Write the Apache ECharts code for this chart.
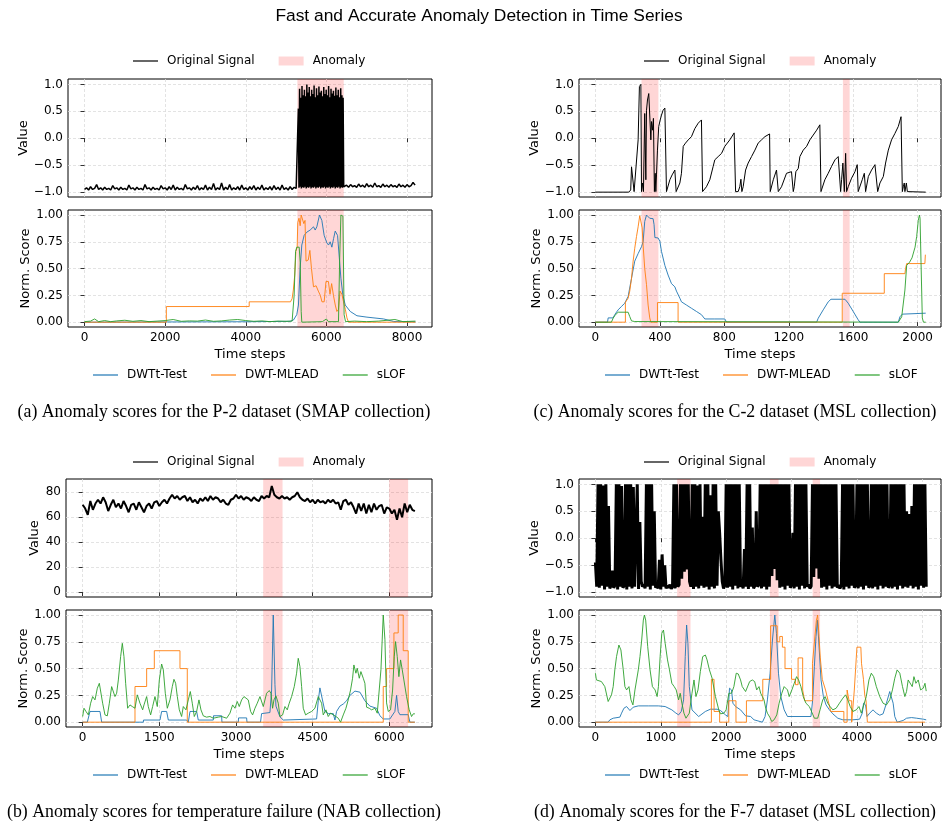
<!DOCTYPE html>
<html>
<head>
<meta charset="utf-8">
<script src="https://cdn.jsdelivr.net/npm/echarts@6/dist/echarts.min.js"></script>
<style>html,body{margin:0;padding:0;background:#fff}#c{width:949px;height:828px}</style>
</head>
<body>
<div id="c"></div>
<script>
// ---------- DATA ----------
const ticksA = [0, 2000, 4000, 6000, 8000];
const ticksC = [0, 400, 800, 1200, 1600, 2000];
const ticksB = [0, 1500, 3000, 4500, 6000];
const ticksD = [0, 1000, 2000, 3000, 4000, 5000];
const ySigTicks = [-1, -0.5, 0, 0.5, 1];
const ySigBTicks = [0, 20, 40, 60, 80];
const yScoreTicks = [0, 0.25, 0.5, 0.75, 1];

const anomA = [[5280, 6430]];
const anomC = [[286, 391], [1536, 1578]];
const anomB = [[3532, 3911], [5996, 6368]];
const anomD = [[1250, 1455], [2669, 2802], [3323, 3436]];

// (a) P-2 signal: three segments
const sigA_base1 = [-0.95,-0.92,-0.96,-0.9,-0.95,-0.93,-0.86,-0.95,-0.92,-0.96,
-0.91,-0.95,-0.93,-0.96,-0.88,-0.94,-0.92,-0.96,-0.91,-0.95,
-0.93,-0.96,-0.87,-0.94,-0.92,-0.96,-0.91,-0.95,-0.93,-0.96,
-0.86,-0.94,-0.92,-0.96,-0.91,-0.95,-0.93,-0.96,-0.88,-0.94,
-0.92,-0.96,-0.9,-0.95,-0.87,-0.96,-0.91,-0.95,-0.93,-0.96,
-0.86,-0.94,-0.92,-0.96,-0.91,-0.95,-0.88,-0.96,-0.92,-0.95,
-0.87,-0.96,-0.91,-0.95,-0.84,-0.96,-0.92,-0.95,-0.83,-0.96,
-0.91,-0.95,-0.86,-0.96,-0.92,-0.95,-0.9,-0.96,-0.87,-0.95,
-0.92,-0.96,-0.9,-0.95,-0.88,-0.96,-0.91,-0.95,-0.87,-0.96,
-0.92,-0.95,-0.9,-0.96,-0.88,-0.95,-0.91,-0.96,-0.87,-0.95,
-0.92,-0.96,-0.9,-0.95,-0.91,-0.93];
const sigA_block = [-0.9,0.55,-0.92,0.92,-0.9,0.75,-0.93,0.97,-0.91,0.8,
-0.92,0.9,-0.9,0.78,-0.93,1.0,-0.91,0.85,-0.92,0.95,
-0.9,0.78,-0.93,0.9,-0.91,0.82,-0.92,0.98,-0.9,0.76,
-0.93,0.93,-0.91,0.8,-0.92,0.96,-0.9,0.85,-0.93,0.88,
-0.91,0.78,-0.92,0.95,-0.9,0.82,-0.93,0.9,-0.91,0.8,
-0.92,0.97,-0.9,0.76,-0.93,0.92,-0.91,0.83,-0.92,0.88,
-0.9,0.79,-0.93,0.94,-0.91,0.8,-0.92,0.9,-0.9,0.76,
-0.93,0.93,-0.91,0.8,-0.92,0.75,-0.9];
const sigA_base2 = [-0.9,-0.87,-0.91,-0.86,-0.9,-0.88,-0.91,-0.85,-0.9,-0.87,
-0.91,-0.84,-0.9,-0.87,-0.91,-0.83,-0.9,-0.88,-0.91,-0.85,
-0.9,-0.87,-0.91,-0.86,-0.9,-0.88,-0.91,-0.85,-0.9,-0.87,
-0.91,-0.86,-0.9,-0.88,-0.82,-0.87];

const blueA = [[0,0],[2000,0.002],[4000,0.004],[5100,0.008],[5183,0.02],[5265,0.07],[5307,0.16],[5348,0.5],[5390,0.72],[5448,0.81],[5514,0.84],[5597,0.86],[5680,0.89],[5722,0.86],[5763,0.89],[5829,1.0],[5887,0.95],[5945,0.81],[6012,0.74],[6053,0.72],[6095,0.75],[6136,0.7],[6178,0.78],[6219,0.85],[6277,0.81],[6327,0.57],[6360,0.41],[6410,0.25],[6468,0.16],[6592,0.1],[6758,0.06],[7007,0.047],[7421,0.03],[7670,0.006],[8209,0.003]];
const orangeA = [[0,0],[2030,0],[2030,0.146],[4085,0.146],[4085,0.19],[5110,0.19],[5150,0.22],[5180,0.3],[5215,0.44],[5245,0.66],[5275,0.7],[5290,0.93],[5320,0.97],[5350,0.9],[5375,1.0],[5420,1.0],[5440,0.92],[5470,0.95],[5495,0.57],[5550,0.58],[5590,0.67],[5630,0.5],[5680,0.33],[5745,0.34],[5800,0.29],[5850,0.25],[5890,0.19],[5945,0.19],[5990,0.38],[6050,0.38],[6090,0.26],[6130,0.36],[6175,0.25],[6220,0.16],[6260,0.1],[6300,0.12],[6340,0.29],[6385,0.26],[6425,0.19],[6470,0.12],[6510,0.04],[6550,0],[8209,0]];
const greenA = [[0,0.005],[150,0.01],[250,0.03],[350,0.005],[500,0.015],[650,0.005],[800,0.012],[1000,0.018],[1200,0.008],[1400,0.015],[1600,0.005],[1800,0.01],[2000,0.015],[2200,0.025],[2400,0.008],[2600,0.012],[2800,0.01],[3000,0.02],[3200,0.008],[3400,0.012],[3600,0.02],[3800,0.025],[4000,0.015],[4200,0.008],[4400,0.012],[4600,0.005],[4800,0.01],[5000,0.008],[5150,0.01],[5200,0.25],[5235,0.66],[5265,0.7],[5325,0.7],[5350,0.56],[5375,0.1],[5390,0],[5900,0.005],[6000,0.03],[6050,0.005],[6300,0.005],[6330,0.6],[6360,1.0],[6410,0.99],[6440,0.07],[6475,0.005],[6700,0.01],[7000,0.005],[7300,0.01],[7700,0.025],[7900,0.005],[8209,0.01]];

// (c) C-2
const sigC = [[0,-1],[207,-1],[219,-0.96],[224,-0.53],[234,-0.52],[240,-0.99],[251,-0.99],[265,-0.03],[273,0.96],[282,1.0],[286,-0.99],[292,-0.83],[298,-0.99],[306,0.46],[313,-0.77],[317,0.52],[323,0.71],[331,0.83],[342,0.83],[344,-0.03],[348,0.31],[354,0.15],[360,0.37],[366,-0.99],[371,-0.65],[375,-0.99],[379,-0.68],[385,-0.22],[393,0.22],[402,0.34],[410,0.43],[420,0.52],[431,0.56],[441,-0.99],[447,-0.99],[462,-0.77],[476,-0.68],[493,-0.59],[501,-0.99],[509,-0.96],[524,-0.83],[534,-0.65],[545,-0.15],[559,-0.09],[576,-0.03],[596,0.03],[617,0.18],[638,0.28],[658,0.34],[665,-0.99],[689,-0.9],[710,-0.77],[731,-0.52],[741,-0.4],[762,-0.34],[783,-0.28],[803,-0.15],[834,-0.03],[861,0.1],[870,-0.99],[886,-0.99],[896,-0.9],[903,-0.76],[909,-0.99],[917,-0.9],[932,-0.59],[948,-0.46],[969,-0.34],[990,-0.22],[1010,-0.09],[1031,-0.03],[1052,0.03],[1081,0.08],[1085,-0.99],[1093,-0.99],[1104,-0.77],[1124,-0.59],[1135,-0.99],[1145,-0.99],[1155,-0.9],[1186,-0.65],[1217,-0.62],[1228,-0.99],[1234,-0.9],[1244,-0.62],[1259,-0.56],[1269,-0.34],[1290,-0.22],[1311,-0.15],[1331,-0.03],[1352,0.06],[1373,0.15],[1393,0.25],[1400,-0.99],[1408,-0.99],[1424,-0.77],[1445,-0.65],[1466,-0.52],[1487,-0.4],[1507,-0.34],[1522,-0.99],[1528,-0.77],[1536,-0.46],[1545,-0.99],[1553,-0.28],[1559,-0.99],[1569,-0.9],[1590,-0.74],[1611,-0.62],[1625,-0.49],[1631,-0.99],[1642,-0.99],[1656,-0.77],[1669,-0.65],[1677,-0.99],[1685,-0.99],[1694,-0.71],[1714,-0.59],[1735,-0.49],[1745,-0.46],[1752,-0.99],[1766,-0.83],[1787,-0.71],[1801,-0.46],[1818,-0.22],[1838,-0.03],[1859,0.09],[1880,0.22],[1897,0.4],[1905,-0.99],[1911,-0.9],[1917,-0.83],[1921,-0.99],[1930,-0.83],[1936,-0.99],[2050,-1]];
const blueC = [[0,0],[75,0],[79,0.04],[110,0.04],[120,0.07],[141,0.115],[161,0.146],[182,0.177],[203,0.24],[224,0.41],[244,0.57],[265,0.64],[286,0.705],[296,0.75],[306,0.94],[317,1.0],[327,0.994],[337,0.97],[348,0.957],[358,0.966],[364,0.91],[369,0.79],[389,0.786],[400,0.755],[410,0.66],[431,0.53],[451,0.44],[472,0.36],[493,0.33],[503,0.29],[524,0.224],[534,0.19],[565,0.16],[596,0.13],[627,0.1],[658,0.07],[679,0.03],[741,0.03],[803,0.03],[814,0],[1373,0],[1383,0.037],[1414,0.115],[1445,0.19],[1462,0.214],[1549,0.214],[1569,0.177],[1600,0.1],[1631,0.022],[1642,0],[1880,0],[1890,0.05],[1905,0.075],[1917,0.084],[2050,0.084]];
const orangeC = [[0,0],[186,0],[186,0.186],[193,0.186],[203,0.224],[213,0.29],[224,0.41],[234,0.57],[244,0.69],[255,0.8],[265,0.89],[275,0.994],[286,1.0],[290,0.88],[296,0.72],[306,0.5],[317,0.35],[327,0.16],[337,0.04],[344,0],[385,0],[385,0.183],[513,0.183],[513,0],[1532,0],[1532,0.27],[1793,0.27],[1793,0.453],[1921,0.453],[1925,0.5],[1932,0.547],[2045,0.547],[2048,0.63]];
const greenC = [[0,0],[99,0],[110,0.037],[120,0.062],[141,0.093],[203,0.093],[213,0.053],[224,0.012],[244,0.006],[255,0],[1880,0],[1901,0.05],[1921,0.3],[1932,0.53],[1950,0.56],[1965,0.6],[1984,0.7],[1994,0.8],[2004,0.95],[2011,1.0],[2015,0.97],[2021,0.56],[2029,0.04],[2036,0],[2050,0]];

// (b) temperature failure, sampled every 50 steps
const sigB = [70,67,62,73,66,71,74,71,76,72,65,70,74,68,71,67,73,69,64,70,
71,66,72,68,64,69,71,67,72,73,69,72,74,71,75,78,75,77,74,76,
77,73,76,72,74,71,75,73,76,73,77,74,76,75,72,74,71,70,74,75,
78,75,77,74,76,75,73,76,74,73,77,75,77,76,85,78,76,75,77,75,
76,74,76,77,80,76,74,73,75,72,74,71,74,72,73,71,74,72,74,71,
72,66,73,74,70,72,68,63,71,65,71,63,70,64,71,66,69,70,63,68,
67,63,66,58,67,60,71,64,70,66,65];
const blueB = [[0,0],[91,0],[143,0.1],[339,0.1],[372,0],[1187,0],[1190,0.02],[1513,0.02],[1545,0.1],[1643,0.1],[1676,0.02],[2034,0.02],[2067,0],[2100,0.1],[2230,0.1],[2262,0.02],[2556,0.02],[2560,0.06],[2719,0.06],[2725,0],[3045,0],[3050,0.04],[3208,0.04],[3215,0],[3480,0],[3501,0.08],[3664,0.09],[3697,0.3],[3729,1.0],[3762,0.35],[3782,0.15],[3860,0.05],[3925,0.02],[3958,0.03],[4577,0.03],[4610,0.2],[4642,0.32],[4675,0.32],[4740,0.1],[4805,0.08],[4903,0.08],[4936,0.02],[4968,0.1],[5033,0.15],[5100,0.17],[5164,0.2],[5229,0.25],[5327,0.29],[5425,0.28],[5522,0.2],[5620,0.15],[5751,0.13],[5816,0.06],[5881,0.03],[6011,0.03],[6109,0.1],[6142,0.25],[6174,0.1],[6207,0.07],[6370,0.07],[6403,0],[6500,0]];
const orangeB = [[0,0],[1024,0],[1024,0.333],[1252,0.333],[1252,0.5],[1402,0.5],[1402,0.667],[1904,0.667],[1904,0.5],[2047,0.5],[2047,0],[5881,0],[5881,0.333],[5946,0.333],[5946,0.5],[6090,0.5],[6090,0.833],[6174,0.833],[6174,1],[6272,1],[6272,0.667],[6370,0.667],[6370,0],[6500,0]];
const greenB = [[0,0.053],[26,0.13],[65,0.1],[111,0.068],[156,0.177],[196,0.239],[241,0.208],[287,0.317],[326,0.363],[359,0.348],[391,0.177],[437,0.068],[482,0.059],[522,0.177],[567,0.332],[600,0.348],[632,0.239],[665,0.27],[698,0.394],[743,0.612],[776,0.736],[808,0.612],[841,0.363],[880,0.13],[926,0.161],[971,0.146],[1024,0.13],[1069,0.255],[1121,0.177],[1174,0.115],[1200,0.161],[1252,0.239],[1284,0.146],[1330,0.068],[1369,0.146],[1415,0.239],[1460,0.146],[1500,0.394],[1545,0.543],[1578,0.488],[1617,0.27],[1656,0.13],[1708,0.208],[1754,0.332],[1786,0.4],[1819,0.363],[1852,0.239],[1891,0.115],[1936,0.053],[1969,0.146],[2021,0.115],[2067,0.208],[2106,0.286],[2145,0.177],[2184,0.053],[2230,0.1],[2275,0.208],[2315,0.115],[2360,0.059],[2425,0.047],[2491,0.053],[2556,0.037],[2654,0.047],[2719,0.053],[2817,0.037],[2882,0.084],[2934,0.161],[2980,0.13],[3025,0.193],[3064,0.146],[3110,0.208],[3156,0.239],[3195,0.255],[3240,0.208],[3286,0.1],[3325,0.068],[3371,0.13],[3416,0.177],[3469,0.239],[3501,0.245],[3534,0.146],[3566,0.161],[3599,0.27],[3651,0.295],[3684,0.27],[3716,0.13],[3743,0.208],[3782,0.245],[3827,0.177],[3860,0.053],[3912,0.068],[3958,0.146],[4003,0.115],[4042,0.177],[4088,0.239],[4140,0.332],[4186,0.457],[4218,0.596],[4251,0.519],[4284,0.332],[4316,0.13],[4362,0.068],[4414,0.084],[4479,0.1],[4544,0.13],[4610,0.239],[4642,0.245],[4675,0.177],[4707,0.068],[4760,0.115],[4805,0.053],[4851,0.084],[4903,0.068],[4955,0.053],[5001,0.037],[5046,0],[5099,0.068],[5151,0.13],[5196,0.208],[5242,0.301],[5281,0.41],[5307,0.534],[5346,0.457],[5372,0.503],[5412,0.41],[5444,0.472],[5490,0.41],[5522,0.363],[5555,0.14],[5607,0.13],[5653,0.115],[5718,0.13],[5764,0.084],[5803,0.1],[5836,0.49],[5881,1.0],[5914,0.77],[5946,0.18],[5979,0.1],[6024,0.115],[6064,0.3],[6096,0.61],[6122,0.752],[6155,0.612],[6187,0.425],[6220,0.581],[6253,0.488],[6285,0.394],[6337,0.239],[6389,0.115],[6435,0.053],[6468,0.078],[6500,0.078]];

// (d) F-7 signal, sampled every 20 steps
const sigD = [-0.45,-0.9,1,-0.92,1,-0.88,0.98,-0.95,1,-0.9,
0.6,-0.93,-0.88,-0.6,-0.92,-0.87,1,-0.95,1,-0.9,
0.97,-0.92,-0.88,1,-0.95,1,-0.9,1,-0.93,0.95,
-0.9,-0.87,1,-0.94,0.3,-0.8,-0.9,-0.86,-0.93,1,
-0.9,1,-0.95,1,-0.88,0.5,-0.92,-0.87,-0.93,-0.4,
-0.95,-0.3,-0.9,-0.5,-0.93,-0.88,-0.92,-0.86,-0.94,-0.89,
1,-0.93,1,-0.9,-0.86,1,-0.75,1,-0.62,1,
-0.58,1,-0.8,-0.9,1,-0.94,1,-0.9,0.98,-0.93,
1,-0.88,0.4,-0.92,1,-0.9,1,-0.95,0.8,-0.9,
1,-0.93,1,-0.88,0.5,0.1,-0.4,-0.8,-0.93,-0.87,
1,-0.92,1,-0.9,1,-0.95,1,-0.88,1,-0.93,
1,-0.9,-0.86,-0.93,-0.2,-0.9,1,-0.94,1,-0.9,
0.2,-0.93,-0.88,0.5,-0.9,-0.86,1,-0.93,1,-0.9,
1,-0.95,1,-0.9,1,-0.7,1,-0.57,1,-0.78,
1,-0.92,1,-0.9,1,-0.95,1,-0.88,1,-0.92,
-0.87,0.1,-0.93,1,-0.9,1,-0.95,1,-0.88,1,
-0.93,1,-0.9,-0.86,-0.93,-0.89,1,-0.72,1,-0.56,
1,-0.75,1,-0.92,1,-0.9,1,-0.95,1,-0.88,
1,-0.93,1,-0.9,1,-0.92,-0.87,-0.93,-0.88,1,
-0.95,1,-0.9,1,-0.93,1,-0.88,1,-0.92,-0.88,
1,-0.93,1,-0.9,1,-0.95,1,-0.88,1,-0.92,
-0.88,1,-0.93,1,-0.9,1,-0.95,1,-0.88,1,
-0.93,1,-0.9,1,-0.92,-0.87,1,-0.93,1,-0.9,
1,-0.95,1,-0.88,1,-0.93,1,-0.9,0.5,-0.92,
0.45,-0.88,0.6,-0.93,1,-0.9,1,-0.95,1,-0.88,
1,-0.92,1,-0.9];
const blueD = [[0,0],[195,0],[221,0.022],[272,0.037],[374,0.047],[400,0.084],[436,0.13],[477,0.146],[503,0.158],[528,0.109],[579,0.14],[656,0.152],[810,0.152],[964,0.152],[1067,0.146],[1169,0.115],[1220,0.09],[1272,0.068],[1313,0.1],[1349,0.208],[1374,0.612],[1395,0.907],[1415,0.736],[1436,0.332],[1477,0.115],[1579,0.053],[1682,0.1],[1759,0.121],[1861,0.121],[1913,0.109],[1990,0.068],[2026,0.053],[2051,0.317],[2082,0.301],[2103,0.177],[2144,0.146],[2220,0.115],[2297,0.059],[2374,0.053],[2426,0.022],[2554,0],[2595,0.053],[2631,0.208],[2672,0.457],[2708,0.767],[2744,1.0],[2769,0.829],[2800,0.457],[2836,0.239],[2887,0.115],[2938,0.053],[3297,0.053],[3323,0.208],[3349,0.519],[3374,0.798],[3395,0.953],[3415,0.767],[3451,0.394],[3487,0.239],[3528,0.161],[3579,0.115],[3631,0.078],[3708,0.037],[3785,0.022],[3938,0.022],[4041,0.028],[4082,0.084],[4102,0.177],[4133,0.161],[4154,0.053],[4195,0.084],[4246,0.115],[4297,0.084],[4349,0.065],[4400,0.078],[4451,0.177],[4502,0.286],[4528,0.27],[4554,0.177],[4579,0.053],[4615,0],[4708,0.016],[4759,0.037],[4836,0.043],[4913,0.037],[5015,0.028],[5060,0.022]];
const orangeD = [[0,0],[1774,0],[1774,0.4],[1815,0.4],[1815,0.1],[1900,0.1],[1900,0],[2040,0],[2040,0.2],[2150,0.2],[2150,0],[2310,0],[2310,0.2],[2560,0.2],[2560,0.4],[2680,0.4],[2680,0.9],[2780,0.9],[2780,0.75],[2820,0.75],[2820,0.8],[2860,0.8],[2860,0.7],[2900,0.7],[2900,0.5],[3000,0.5],[3000,0.4],[3060,0.4],[3060,0.35],[3100,0.35],[3100,0.6],[3170,0.6],[3170,0.3],[3200,0.3],[3200,0.2],[3320,0.2],[3320,0.55],[3350,0.75],[3380,0.95],[3400,1.0],[3420,0.8],[3440,0.6],[3470,0.4],[3520,0.3],[3560,0.2],[3600,0.1],[3800,0.1],[3800,0],[3850,0],[3850,0.3],[3880,0.3],[3880,0.2],[3920,0.2],[3920,0],[3940,0],[3960,0.3],[3980,0.5],[3990,0.6],[4000,0.7],[4060,0.7],[4070,0.55],[4090,0.45],[4100,0.4],[4120,0.25],[4140,0.2],[4160,0],[5040,0]];
const greenD = [[0,0.457],[15,0.394],[41,0.41],[92,0.379],[144,0.332],[195,0.193],[221,0.208],[246,0.255],[272,0.332],[297,0.488],[323,0.612],[359,0.72],[390,0.674],[426,0.488],[451,0.332],[477,0.301],[513,0.332],[544,0.208],[574,0.161],[605,0.301],[656,0.488],[682,0.612],[708,0.767],[733,0.953],[749,1.0],[769,0.953],[800,0.705],[836,0.488],[872,0.332],[913,0.301],[944,0.239],[964,0.332],[990,0.612],[1015,0.829],[1041,0.86],[1067,0.736],[1103,0.581],[1133,0.488],[1169,0.363],[1205,0.332],[1236,0.301],[1272,0.208],[1297,0.27],[1323,0.177],[1354,0.084],[1385,0.037],[1410,0.028],[1436,0.084],[1477,0.27],[1508,0.394],[1538,0.239],[1569,0.301],[1605,0.472],[1641,0.612],[1682,0.627],[1708,0.581],[1744,0.488],[1785,0.41],[1836,0.239],[1887,0.115],[1913,0.078],[1964,0.084],[2000,0.115],[2041,0.27],[2082,0.27],[2118,0.332],[2154,0.457],[2185,0.45],[2220,0.394],[2246,0.332],[2297,0.286],[2323,0.301],[2359,0.379],[2400,0.394],[2436,0.379],[2467,0.301],[2502,0.332],[2528,0.27],[2554,0.239],[2579,0.208],[2605,0.13],[2631,0.084],[2667,0.047],[2697,0.006],[2733,0.022],[2774,0.068],[2810,0.177],[2851,0.27],[2887,0.332],[2913,0.348],[2938,0.301],[2964,0.239],[3005,0.301],[3041,0.363],[3077,0.425],[3108,0.394],[3143,0.332],[3179,0.239],[3220,0.177],[3272,0.146],[3313,0.09],[3349,0.037],[3374,0.022],[3400,0.037],[3436,0.115],[3477,0.208],[3513,0.239],[3554,0.177],[3590,0.146],[3631,0.115],[3682,0.13],[3733,0.177],[3785,0.224],[3826,0.255],[3861,0.208],[3897,0.146],[3938,0.1],[3990,0.115],[4031,0.146],[4067,0.084],[4092,0.068],[4143,0.239],[4184,0.394],[4220,0.457],[4256,0.425],[4297,0.332],[4349,0.239],[4400,0.177],[4451,0.161],[4502,0.208],[4543,0.301],[4579,0.41],[4615,0.488],[4656,0.457],[4697,0.332],[4733,0.239],[4759,0.286],[4784,0.394],[4810,0.41],[4846,0.332],[4872,0.425],[4902,0.363],[4938,0.394],[4974,0.301],[5015,0.317],[5041,0.363],[5060,0.29]];

// ---------- BUILD ----------
const seq = (start, step, vals) => vals.map((v, i) => [start + i * step, v]);
const sigA = seq(0, 50, sigA_base1).concat(seq(5290, 15, sigA_block), seq(6450, 50, sigA_base2));
const sigBpts = seq(0, 50, sigB);
const sigDpts = seq(0, 20, sigD);

const FONT = 'DejaVu Sans';
const PINK = 'rgba(255,0,0,0.16)';
const BLUE = '#1f77b4', ORANGE = '#ff7f0e', GREEN = '#2ca02c';
const LINE_ICON = 'path://M0,0L0,0M0,3.9L25,3.9L25,5.1L0,5.1ZM25,9L25,9';

const grids = [
  {left: 68, top: 79, width: 364, height: 118},
  {left: 68, top: 210, width: 364, height: 117},
  {left: 579, top: 79, width: 362, height: 118},
  {left: 579, top: 210, width: 362, height: 117},
  {left: 66, top: 479, width: 366, height: 118},
  {left: 66, top: 610, width: 366, height: 117},
  {left: 579, top: 479, width: 362, height: 118},
  {left: 579, top: 610, width: 362, height: 117}
].map(g => Object.assign({show: true, borderColor: '#000', borderWidth: 1, backgroundColor: 'transparent', containLabel: false}, g));

const fmtSig = v => (v < 0 ? '\u2212' : '') + Math.abs(v).toFixed(1);
const fmtScore = v => v.toFixed(2);
const fmtInt = v => String(v);
const split = {show: true, lineStyle: {color: '#dcdcdc', type: [3, 2], width: 0.8}};

function xAx(gi, min, max, ticks, showLabel) {
  return {
    type: 'value', gridIndex: gi, min, max,
    axisLine: {show: false},
    axisTick: {show: true, inside: false, length: 4, customValues: ticks, lineStyle: {color: '#000', width: 0.8}},
    axisLabel: {show: showLabel, customValues: ticks, margin: 5, fontSize: 12, color: '#000', fontFamily: FONT, formatter: fmtInt},
    splitLine: split,
    name: showLabel ? 'Time steps' : '', nameLocation: 'middle', nameGap: 21,
    nameTextStyle: {fontSize: 13, color: '#000', fontFamily: FONT}
  };
}
function yAx(gi, min, max, ticks, fmt, name, gap) {
  return {
    type: 'value', gridIndex: gi, min, max,
    axisLine: {show: false},
    axisTick: {show: true, inside: false, length: 4, customValues: ticks, lineStyle: {color: '#000', width: 0.8}},
    axisLabel: {show: true, customValues: ticks, margin: 5, fontSize: 12, color: '#000', fontFamily: FONT, formatter: fmt},
    splitLine: split,
    name, nameLocation: 'middle', nameRotate: 90, nameGap: gap,
    nameTextStyle: {fontSize: 13, color: '#000', fontFamily: FONT}
  };
}

const xAxis = [
  xAx(0, -410, 8620, ticksA, false), xAx(1, -410, 8620, ticksA, true),
  xAx(2, -102, 2145, ticksC, false), xAx(3, -102, 2145, ticksC, true),
  xAx(4, -326, 6835, ticksB, false), xAx(5, -326, 6835, ticksB, true),
  xAx(6, -251, 5286, ticksD, false), xAx(7, -251, 5286, ticksD, true)
];
const yAxis = [
  yAx(0, -1.09, 1.1, ySigTicks, fmtSig, 'Value', 38), yAx(1, -0.045, 1.047, yScoreTicks, fmtScore, 'Norm. Score', 36),
  yAx(2, -1.09, 1.1, ySigTicks, fmtSig, 'Value', 38), yAx(3, -0.045, 1.047, yScoreTicks, fmtScore, 'Norm. Score', 36),
  yAx(4, -3.7, 90.6, ySigBTicks, fmtInt, 'Value', 25), yAx(5, -0.045, 1.047, yScoreTicks, fmtScore, 'Norm. Score', 36),
  yAx(6, -1.09, 1.1, ySigTicks, fmtSig, 'Value', 38), yAx(7, -0.045, 1.047, yScoreTicks, fmtScore, 'Norm. Score', 36)
];

function line(name, gi, data, color, width, opacity) {
  return {type: 'line', name, xAxisIndex: gi, yAxisIndex: gi, data, symbol: 'none', showSymbol: false,
    lineStyle: {color, width, opacity: opacity == null ? 1 : opacity}, itemStyle: {color}, z: 3, silent: true, animation: false};
}
function anomaly(gi, ranges) {
  return {type: 'line', name: 'Anomaly', xAxisIndex: gi, yAxisIndex: gi, data: [], symbol: 'none',
    itemStyle: {color: PINK}, lineStyle: {color: PINK}, z: 1, silent: true, animation: false,
    markArea: {silent: true, itemStyle: {color: PINK}, data: ranges.map(r => [{xAxis: r[0]}, {xAxis: r[1]}])}};
}
function scores(gi, b, o, g) {
  return [line('DWTt-Test', gi, b, BLUE, 1, 0.9), line('DWT-MLEAD', gi, o, ORANGE, 1, 0.9), line('sLOF', gi, g, GREEN, 1, 0.9)];
}

const series = [
  anomaly(0, anomA), line('Original Signal', 0, sigA, '#000', 1.5),
  anomaly(1, anomA), ...scores(1, blueA, orangeA, greenA),
  anomaly(2, anomC), line('Original Signal', 2, sigC, '#000', 1),
  anomaly(3, anomC), ...scores(3, blueC, orangeC, greenC),
  anomaly(4, anomB), line('Original Signal', 4, sigBpts, '#000', 2),
  anomaly(5, anomB), ...scores(5, blueB, orangeB, greenB),
  anomaly(6, anomD), line('Original Signal', 6, sigDpts, '#000', 3),
  anomaly(7, anomD), ...scores(7, blueD, orangeD, greenD)
];

const legText = {fontSize: 12, color: '#000', fontFamily: FONT, padding: [0, 0, 0, 4]};
function topLeg(left, top) {
  return {left, top, padding: 0, itemWidth: 25, itemHeight: 9, itemGap: 24, textStyle: legText, selectedMode: false,
    symbolKeepAspect: false,
    data: [{name: 'Original Signal', icon: LINE_ICON}, {name: 'Anomaly', icon: 'rect'}]};
}
function botLeg(left, top) {
  return {left, top, padding: 0, itemWidth: 25, itemHeight: 9, itemGap: 24, textStyle: legText, selectedMode: false,
    symbolKeepAspect: false,
    data: [{name: 'DWTt-Test', icon: LINE_ICON}, {name: 'DWT-MLEAD', icon: LINE_ICON}, {name: 'sLOF', icon: LINE_ICON}]};
}
const legend = [topLeg(133, 55), botLeg(93, 369), topLeg(644, 55), botLeg(605, 369),
                topLeg(133, 456), botLeg(93, 769), topLeg(644, 456), botLeg(605, 769)];

const capStyle = {fontFamily: 'Liberation Serif', fontSize: 17.8, fontWeight: 'normal', color: '#000'};
const title = [
  {text: 'Fast and Accurate Anomaly Detection in Time Series', left: 479, top: 8, padding: 0, textAlign: 'center',
   textStyle: {fontFamily: 'Liberation Sans', fontSize: 17.4, fontWeight: 'normal', color: '#000'}},
  {text: '(a) Anomaly scores for the P-2 dataset (SMAP collection)', left: 224, top: 403, padding: 0, textAlign: 'center', textStyle: capStyle},
  {text: '(c) Anomaly scores for the C-2 dataset (MSL collection)', left: 735, top: 403, padding: 0, textAlign: 'center', textStyle: capStyle},
  {text: '(b) Anomaly scores for temperature failure (NAB collection)', left: 224, top: 803, padding: 0, textAlign: 'center', textStyle: capStyle},
  {text: '(d) Anomaly scores for the F-7 dataset (MSL collection)', left: 735, top: 803, padding: 0, textAlign: 'center', textStyle: capStyle}
];

const chart = echarts.init(document.getElementById('c'), null, {renderer: 'canvas'});
chart.setOption({animation: false, backgroundColor: '#fff', title, legend, grid: grids, xAxis, yAxis, series});
</script>
</body>
</html>
